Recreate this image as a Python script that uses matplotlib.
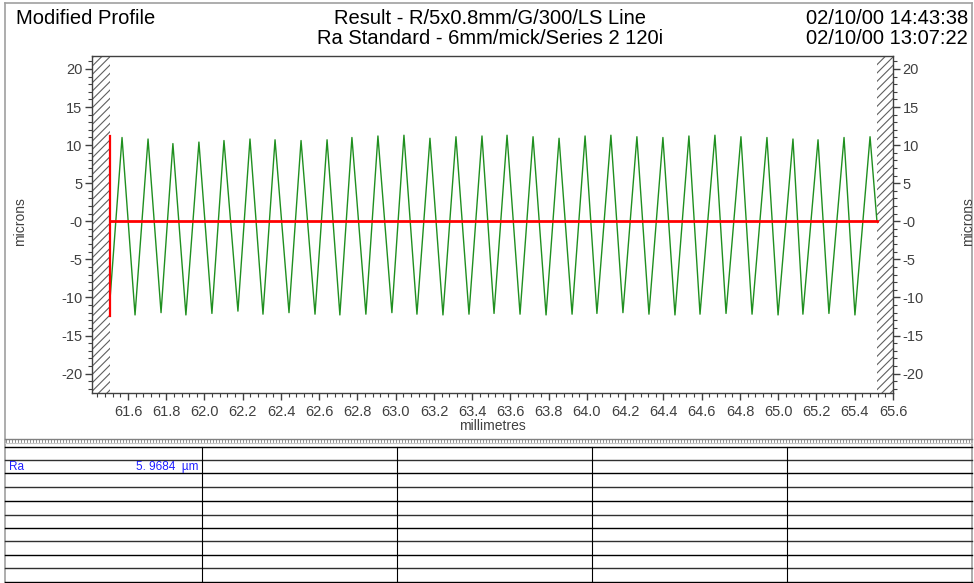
import matplotlib
matplotlib.use("Agg")
import matplotlib.pyplot as plt
from matplotlib.ticker import MultipleLocator, FuncFormatter, FixedLocator

plt.rcParams['font.family'] = ['Liberation Sans', 'DejaVu Sans']
plt.rcParams['hatch.linewidth'] = 0.8

# === Daten ===
profile_start = (61.506, -10.3)
profile_end = (65.516, 0.0)

peak_x = [61.569, 61.705, 61.835, 61.971, 62.102, 62.238, 62.369, 62.505, 62.641, 62.771,
          62.907, 63.043, 63.179, 63.315, 63.451, 63.582, 63.718, 63.854, 63.990, 64.125,
          64.261, 64.397, 64.533, 64.669, 64.805, 64.941, 65.077, 65.208, 65.344, 65.480]
peak_y = [11.0, 10.8, 10.2, 10.4, 10.6, 10.8, 10.7, 10.6, 10.7, 11.0,
          11.2, 11.3, 10.9, 11.1, 11.2, 11.3, 11.1, 10.9, 11.2, 11.3,
          11.1, 11.0, 11.2, 11.3, 11.1, 11.0, 10.8, 10.7, 11.0, 11.1]

trough_x = [61.637, 61.773, 61.903, 62.039, 62.175, 62.306, 62.442, 62.578, 62.708, 62.844,
            62.980, 63.111, 63.247, 63.383, 63.514, 63.650, 63.786, 63.922, 64.052, 64.188,
            64.324, 64.460, 64.591, 64.727, 64.863, 64.999, 65.129, 65.265, 65.401]
trough_y = [-12.3, -12.0, -12.3, -12.1, -11.8, -12.2, -12.0, -12.2, -12.3, -12.2,
            -12.0, -12.2, -12.3, -12.2, -12.1, -12.2, -12.3, -12.2, -12.1, -12.0,
            -12.2, -12.3, -12.2, -12.1, -12.2, -12.3, -12.2, -12.1, -12.3]

x_ticks = [61.6, 61.8, 62.0, 62.2, 62.4, 62.6, 62.8, 63.0, 63.2, 63.4, 63.6, 63.8,
           64.0, 64.2, 64.4, 64.6, 64.8, 65.0, 65.2, 65.4, 65.6]

mean_line_y = 0.0
marker_lo, marker_hi = -12.5, 11.2

ra_value = "5. 9684  µm"

# Profil zusammensetzen (Spitzen und Taeler abwechselnd)
pts = [profile_start] + list(zip(peak_x, peak_y)) + list(zip(trough_x, trough_y)) + [profile_end]
pts.sort(key=lambda p: p[0])
prof_x = [p[0] for p in pts]
prof_y = [p[1] for p in pts]

# === Figur ===
W, H = 974, 583
fig = plt.figure(figsize=(W / 100, H / 100), dpi=100)

# Hintergrund-Achse in Pixelkoordinaten fuer Rahmen und Tabelle
bg = fig.add_axes([0, 0, 1, 1])
bg.set_xlim(0, W)
bg.set_ylim(H, 0)
bg.axis('off')

frame_c = '#a0a0a0'
bg.plot([5, 5], [3, H], color=frame_c, lw=1.2)
bg.plot([972, 972], [3, H], color=frame_c, lw=1.2)
bg.plot([5, 972], [3, 3], color=frame_c, lw=1.2)

# Trenner mit Lineal-Muster
bg.plot([5, 972], [439, 439], color='#808080', lw=1.0)
for xx in range(6, 972, 3):
    bg.plot([xx, xx], [439, 442], color='#808080', lw=0.6)
bg.plot([5, 972], [443, 443], color='#c8c8c8', lw=0.8)

# Tabelle
row_y = [446.7, 460, 473.3, 487.3, 501, 515.3, 527.7, 541, 555, 568.3, 581.7]
col_x = [202, 397, 592, 787]
for i, yy in enumerate(row_y):
    bg.plot([5, 972], [yy, yy], color='black' if i % 2 == 0 else '#303030', lw=1.0)
for xx in col_x:
    bg.plot([xx, xx], [row_y[0], row_y[-1]], color='black', lw=0.8)

bg.text(9, 467, "Ra", color='#2020ff', fontsize=8.5, va='center', ha='left')
bg.text(198, 467, ra_value, color='#2020ff', fontsize=8.5, va='center', ha='right')

# Kopfzeile
hfs = 14.5
bg.text(16, 18, "Modified Profile", fontsize=hfs, va='center', ha='left')
bg.text(490, 18, "Result - R/5x0.8mm/G/300/LS Line", fontsize=hfs, va='center', ha='center')
bg.text(490, 39, "Ra Standard - 6mm/mick/Series 2 120i", fontsize=hfs, va='center', ha='center')
bg.text(968, 18, "02/10/00 14:43:38", fontsize=hfs, va='center', ha='right')
bg.text(968, 39, "02/10/00 13:07:22", fontsize=hfs, va='center', ha='right')

# === Profil-Plot ===
ax = fig.add_axes([92 / W, 1 - 393 / H, (893 - 92) / W, (393 - 56) / H])

ax.axvspan(61.412, profile_start[0], facecolor='none', edgecolor='#606060', hatch='////', lw=0)
ax.axvspan(profile_end[0], 65.6, facecolor='none', edgecolor='#606060', hatch='////', lw=0)

ax.plot(prof_x, prof_y, color='#1f8f1f', lw=1.0, zorder=3)
ax.plot([profile_start[0], profile_end[0]], [mean_line_y, mean_line_y], color='#ff0000', lw=2.0, zorder=4)
ax.plot([profile_start[0], profile_start[0]], [marker_lo, marker_hi], color='#ff0000', lw=1.6, zorder=4)

for s in ax.spines.values():
    s.set_color('#404040')
    s.set_linewidth(1.0)

ax.xaxis.set_major_locator(FixedLocator(x_ticks))
ax.xaxis.set_minor_locator(MultipleLocator(0.04))
ax.yaxis.set_major_locator(MultipleLocator(5))
ax.yaxis.set_minor_locator(MultipleLocator(1))

ax.xaxis.set_major_formatter(FuncFormatter(lambda v, p: f"{v:.1f}"))
ax.yaxis.set_major_formatter(FuncFormatter(lambda v, p: "-0" if abs(v) < 1e-9 else f"{v:.0f}"))

ax.tick_params(axis='both', which='major', direction='out', length=5, width=1, color='#404040',
               labelsize=10.5, labelcolor='#404040', pad=2)
ax.tick_params(axis='x', which='major', pad=4)
ax.tick_params(axis='both', which='minor', direction='out', length=3, width=0.8, color='#404040')
ax.tick_params(axis='y', which='both', left=True, right=True, labelleft=True, labelright=True)
ax.tick_params(axis='x', which='both', top=False)

ax.set_xlim(61.412, 65.6)
ax.set_ylim(-22.55, 21.7)

ax.set_xlabel("millimetres", fontsize=10, color='#404040', labelpad=0)
fig.text(20 / W, 1 - 222 / H, "microns", rotation=90, fontsize=10, color='#404040', va='center', ha='center')
fig.text(968 / W, 1 - 222 / H, "microns", rotation=90, fontsize=10, color='#404040', va='center', ha='center')

fig.savefig("out.png", dpi=100)
